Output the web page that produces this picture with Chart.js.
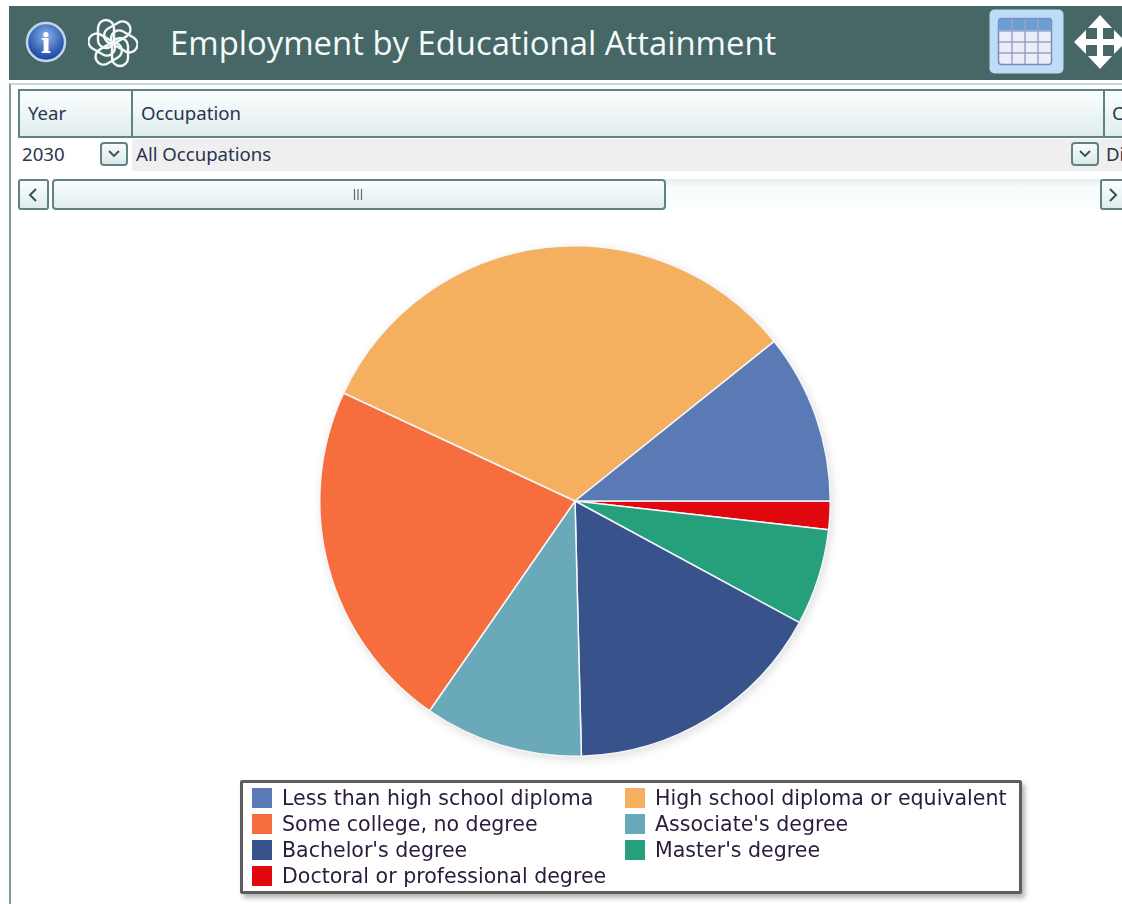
<!DOCTYPE html>
<html>
<head>
<meta charset="utf-8">
<title>Employment by Educational Attainment</title>
<script src="https://cdn.jsdelivr.net/npm/chart.js@4"></script>
<style>
html, body { margin: 0; padding: 0; }
body { width: 1122px; height: 904px; position: relative; overflow: hidden; background: #fff; font-family: "Noto Sans", sans-serif; }
.box { position: absolute; box-sizing: border-box; }
.txt { position: absolute; white-space: nowrap; color: #2a3350; }
#header { left: 9px; top: 6px; width: 1113px; height: 74px; background: #466766; }
#title { left: 170px; top: 19px; font-size: 32.85px; line-height: 48px; color: #f4fbfb; font-family: "Open Sans", sans-serif; }
#panel { left: 9px; top: 83px; width: 1113px; height: 821px; border-left: 2px solid #7d9d9a; border-top: 2px solid #c9d8d7; background: #fff; }
#gridHead { left: 18px; top: 89px; width: 1106px; height: 49px; border: 2px solid #5f8380; background: linear-gradient(#fbfefe, #e0eded); }
.divider { top: 89px; width: 2px; height: 49px; background: #5f8380; }
#yearCell { left: 18px; top: 139px; width: 114px; height: 32px; background: #fff; }
#occCell { left: 132px; top: 139px; width: 990px; height: 32px; background: #efefef; }
.combo { top: 142px; width: 28px; height: 24px; border: 2px solid #5f8380; border-radius: 4px; background: linear-gradient(#f8fcfc, #dbe9e9); }
.scrollBtn { top: 179px; height: 31px; border: 2px solid #5f8380; border-radius: 3px; background: linear-gradient(#fbfefe, #e0eded); }
#track { left: 665px; top: 179px; width: 436px; height: 30px; background: linear-gradient(#e4efef, #f7fcfc 30%, #fafefe); }
#thumb { left: 52px; top: 179px; width: 614px; height: 31px; border: 2px solid #5f8380; border-radius: 4px; background: linear-gradient(#fbfefe, #e0eded); }
.cell { font-size: 18.6px; line-height: 24px; font-family: "Noto Sans", sans-serif; }
#pieCanvas { position: absolute; left: 300px; top: 226px; filter: drop-shadow(2px 3px 4px rgba(0, 0, 0, 0.12)); }
#legendBox { left: 240px; top: 780px; width: 782px; height: 114px; background: #fff; border: 3px solid #5d5d5d; border-radius: 2px; box-shadow: 3px 4px 5px rgba(0, 0, 0, 0.3); }
.swatch { position: absolute; width: 20px; height: 20px; }
.legendText { position: absolute; white-space: nowrap; font-family: "DejaVu Sans", sans-serif; font-size: 20.55px; line-height: 24px; color: #2b1a3c; }
svg { position: absolute; }
</style>
</head>
<body>
<div class="box" id="header"></div>
<svg style="left:24px;top:20px" width="44" height="44" viewBox="0 0 44 44">
  <defs>
    <radialGradient id="orb" cx="50%" cy="35%" r="65%">
      <stop offset="0" stop-color="#8fb4ea"/><stop offset="0.7" stop-color="#2f5fb5"/><stop offset="1" stop-color="#1f4595"/>
    </radialGradient>
  </defs>
  <circle cx="22" cy="22" r="19" fill="url(#orb)" stroke="#c4d4ef" stroke-width="2.5"/>
  <text x="22" y="33" text-anchor="middle" font-family="DejaVu Serif" font-weight="bold" font-size="27" fill="#fff">i</text>
</svg>
<svg style="left:88px;top:18px" width="50" height="50" viewBox="0 0 50 50" fill="none" stroke="#f2f7f7" stroke-width="2.4">
  <rect x="10" y="2" width="16" height="28" rx="8" transform="rotate(0 25 25)"/>
  <rect x="10" y="2" width="16" height="28" rx="8" transform="rotate(60 25 25)"/>
  <rect x="10" y="2" width="16" height="28" rx="8" transform="rotate(120 25 25)"/>
  <rect x="10" y="2" width="16" height="28" rx="8" transform="rotate(180 25 25)"/>
  <rect x="10" y="2" width="16" height="28" rx="8" transform="rotate(240 25 25)"/>
  <rect x="10" y="2" width="16" height="28" rx="8" transform="rotate(300 25 25)"/>
</svg>
<div class="txt" id="title">Employment by Educational Attainment</div>
<svg style="left:989px;top:9px" width="75" height="65" viewBox="0 0 75 65">
  <rect x="0.5" y="0.5" width="74" height="64" rx="5" fill="#bcdcf8"/>
  <rect x="9.500" y="9.500" width="53" height="46" rx="3" fill="#ebeef7" stroke="#7e86bb" stroke-width="1.5"/>
  <rect x="9.500" y="9.500" width="53" height="12" rx="3" fill="#6b9fd3"/>
  <path d="M23 10V55M36 10V55M49 10V55M10 22H62M10 33H62M10 44H62" stroke="#9aa2cc" stroke-width="1.5" fill="none"/>
</svg>
<svg style="left:1074px;top:15px" width="48" height="54" viewBox="0 0 48 54">
  <path d="M26 0L38 13H29V24H40V15L52 27L40 39V30H29V41H38L26 54L14 41H23V30H12V39L0 27L12 15V24H23V13H14Z" fill="#fff"/>
</svg>

<div class="box" id="panel"></div>
<div class="box" id="gridHead"></div>
<div class="box divider" style="left:131px"></div>
<div class="box divider" style="left:1103px"></div>
<div class="txt cell" style="left:28px;top:101px">Year</div>
<div class="txt cell" style="left:141px;top:101px">Occupation</div>
<div class="txt cell" style="left:1112px;top:101px">C</div>
<div class="box" id="yearCell"></div>
<div class="box" id="occCell"></div>
<div class="txt cell" style="left:22px;top:142px">2030</div>
<div class="txt cell" style="left:136px;top:142px">All Occupations</div>
<div class="txt cell" style="left:1106px;top:142px">Di</div>
<div class="box combo" style="left:100px"></div>
<div class="box combo" style="left:1071px"></div>
<svg style="left:107px;top:149px" width="14" height="10"><path d="M2 2L7 7L12 2" stroke="#355" stroke-width="1.8" fill="none"/></svg>
<svg style="left:1078px;top:149px" width="14" height="10"><path d="M2 2L7 7L12 2" stroke="#355" stroke-width="1.8" fill="none"/></svg>
<div class="box" id="track"></div>
<div class="box scrollBtn" style="left:18px;width:31px"></div>
<div class="box" id="thumb"></div>
<div class="box scrollBtn" style="left:1100px;width:30px"></div>
<svg style="left:27px;top:187px" width="12" height="16"><path d="M9 2L3 8L9 14" stroke="#355" stroke-width="2" fill="none"/></svg>
<svg style="left:1107px;top:187px" width="12" height="16"><path d="M3 2L9 8L3 14" stroke="#355" stroke-width="2" fill="none"/></svg>
<svg style="left:353px;top:189px" width="10" height="12"><path d="M1.500 0V11M5 0V11M8.500 0V11" stroke="#667" stroke-width="1.2" fill="none"/></svg>

<canvas id="pieCanvas" width="550" height="550"></canvas>

<div class="box" id="legendBox"></div>
<div id="legend"></div>

<script>
// Share of employment by education level, 2030, all occupations (percent)
const categories = [
    'Less than high school diploma',
    'High school diploma or equivalent',
    'Some college, no degree',
    "Associate's degree",
    "Bachelor's degree",
    "Master's degree",
    'Doctoral or professional degree'
];
const shares = [10.75, 32.3, 22.3, 10.05, 16.7, 6.1, 1.8];
const sliceColors = ['#5a7ab6', '#f4b05e', '#f66e3e', '#6aa9ba', '#38528b', '#259f7c', '#e1070f'];

// Slices run counter-clockwise from 3 o'clock, Chart.js only goes clockwise,
// so feed the series backwards and start at 90 degrees.
const pieLabels = categories.slice().reverse();
const pieValues = shares.slice().reverse();
const pieColors = sliceColors.slice().reverse();

new Chart(document.getElementById('pieCanvas').getContext('2d'), {
    type: 'pie',
    data: {
        labels: pieLabels,
        datasets: [{
            data: pieValues,
            backgroundColor: pieColors,
            borderColor: '#f4f6f8',
            borderWidth: 1.5
        }]
    },
    options: {
        responsive: false,
        animation: false,
        rotation: 90,
        layout: { padding: 19 },
        plugins: {
            legend: { display: false },
            tooltip: { enabled: false }
        }
    }
});

// Two-column legend, filled row by row
const legend = document.getElementById('legend');
categories.forEach((name, i) => {
    const col = i % 2;
    const row = Math.floor(i / 2);
    const x = col === 0 ? 252 : 625;
    const y = 788 + row * 26;
    const swatch = document.createElement('div');
    swatch.className = 'swatch';
    swatch.style.left = x + 'px';
    swatch.style.top = y + 'px';
    swatch.style.background = sliceColors[i];
    legend.appendChild(swatch);
    const label = document.createElement('div');
    label.className = 'legendText';
    label.style.left = (x + 30) + 'px';
    label.style.top = (y - 2) + 'px';
    label.textContent = name;
    legend.appendChild(label);
});
</script>
</body>
</html>
